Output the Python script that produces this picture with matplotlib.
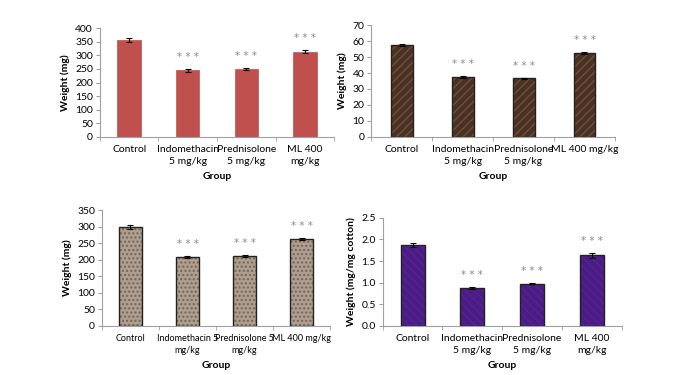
import numpy as np
import matplotlib
matplotlib.use('Agg')
import matplotlib.pyplot as plt

plt.rcParams['font.family'] = ['Lato', 'DejaVu Sans']

# Data
groups_a = ['Control', 'Indomethacin\n5 mg/kg', 'Prednisolone\n5 mg/kg', 'ML 400\nmg/kg']
groups_b = ['Control', 'Indomethacin\n5 mg/kg', 'Prednisolone\n5 mg/kg', 'ML 400 mg/kg']
groups_c = ['Control', 'Indomethacin 5\nmg/kg', 'Prednisolone 5\nmg/kg', 'ML 400 mg/kg']
groups_d = ['Control', 'Indomethacin\n5 mg/kg', 'Prednisolone\n5 mg/kg', 'ML 400\nmg/kg']

wet_weight = [355, 245, 251, 313]
wet_err = [7, 5, 4, 5]
dry_weight = [57.6, 37.6, 36.6, 52.6]
dry_err = [0.8, 0.5, 0.4, 0.8]
liver_weight = [299, 208, 212, 262]
liver_err = [5, 4, 3, 3]
cotton_weight = [1.87, 0.88, 0.98, 1.63]
cotton_err = [0.04, 0.03, 0.02, 0.05]
stars = ['', '* * *', '* * *', '* * *']

fig = plt.figure(figsize=(6.75, 3.75), dpi=100)
fig.patch.set_facecolor('white')

panels = [
    # rect, labels, values, errors, ylim, ticks, colour, hatch, hatch colour, ylabel, bar width, tick font
    ([0.148, 0.635, 0.347, 0.290], groups_a, wet_weight, wet_err, 400, np.arange(0, 401, 50),
     '#c0504d', None, None, 'Weight (mg)', 0.40, 7.5, '{:.0f}'),
    ([0.550, 0.635, 0.361, 0.298], groups_b, dry_weight, dry_err, 70, np.arange(0, 71, 10),
     '#4a3122', '////', '#6e5040', 'Weight (mg)', 0.36, 7.5, '{:.0f}'),
    ([0.151, 0.131, 0.338, 0.309], groups_c, liver_weight, liver_err, 350, np.arange(0, 351, 50),
     '#ad9e8e', '....', '#74655a', 'Weight (mg)', 0.41, 6.5, '{:.0f}'),
    ([0.567, 0.131, 0.354, 0.288], groups_d, cotton_weight, cotton_err, 2.5, np.arange(0, 2.51, 0.5),
     '#4b1c86', '\\\\\\\\', '#55258f', 'Weight (mg/mg cotton)', 0.40, 7.5, '{:.1f}'),
]

for rect, labels, vals, errs, ymax, ticks, colour, hatch, hcol, ylab, bw, tfs, fmt in panels:
    ax = fig.add_axes(rect)
    x = np.arange(len(vals))
    if hatch:
        ax.bar(x, vals, width=bw, color=colour, hatch=hatch, edgecolor=hcol, linewidth=0, zorder=2)
        ax.bar(x, vals, width=bw, color='none', edgecolor='#222222', linewidth=1.0, zorder=3)
    else:
        ax.bar(x, vals, width=bw, color=colour, edgecolor=colour, linewidth=0.5, zorder=2)
    ax.errorbar(x, vals, yerr=errs, fmt='none', ecolor='black', elinewidth=0.8,
                capsize=2.5, capthick=0.8, zorder=4)
    for xi, v, e, s in zip(x, vals, errs, stars):
        if s:
            ax.annotate(s, (xi, v + e), xytext=(0, 5), textcoords='offset points',
                        ha='center', va='bottom', fontsize=7.5, color='#8a8a8a',
                        family='DejaVu Sans')
    ax.set_xlim(-0.5, len(vals) - 0.5)
    ax.set_ylim(0, ymax)
    ax.set_yticks(ticks)
    ax.set_yticklabels([fmt.format(t) for t in ticks], fontsize=7.5)
    ax.set_xticks(x)
    ax.set_xticklabels(labels, fontsize=tfs, linespacing=1.4)
    ax.set_xticks(np.arange(-0.5, len(vals), 1.0), minor=True)
    ax.tick_params(axis='x', which='major', length=0, pad=6)
    ax.tick_params(axis='x', which='minor', length=3, color='#a0a0a0', direction='out')
    ax.tick_params(axis='y', length=3, color='#a0a0a0', direction='out', pad=2)
    for side in ['top', 'right']:
        ax.spines[side].set_visible(False)
    for side in ['left', 'bottom']:
        ax.spines[side].set_color('#a0a0a0')
        ax.spines[side].set_linewidth(0.8)
    ax.set_xlabel('Group', fontsize=7.5, fontweight='bold', labelpad=4)
    ax.set_ylabel(ylab, fontsize=7.5, fontweight='bold', labelpad=4)

fig.savefig('out.png', dpi=100, facecolor='white')
